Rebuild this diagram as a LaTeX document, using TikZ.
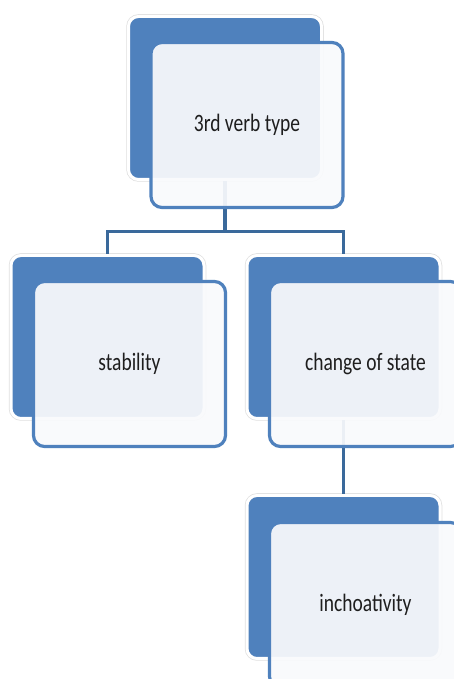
\documentclass[tikz,border=0pt]{standalone}
\usepackage{fontspec}
\usetikzlibrary{positioning}

\newfontfamily\labelfont[FakeStretch=0.78]{Carlito}
\definecolor{boxblue}{RGB}{79,129,189}
\definecolor{linkblue}{RGB}{58,105,155}
\definecolor{paneface}{RGB}{249,250,252}
\definecolor{labelgray}{RGB}{30,30,30}

\begin{document}
\begin{tikzpicture}
[x=1pt,y=1pt,node distance=240pt,on grid,
                    back/.style={rectangle,rounded corners=10pt,fill=boxblue,draw=white,line width=3pt,
                                 minimum width=193pt,minimum height=163pt,
                                 preaction={draw=black!12,line width=4.5pt}},
                    pane/.style={rectangle,rounded corners=11pt,draw=boxblue,line width=3.2pt,
                                 fill=paneface,fill opacity=0.93,text opacity=1,
                                 minimum width=192pt,minimum height=165pt,
                                 text=labelgray,font=\labelfont\fontsize{25}{29}\selectfont},
                    link/.style={draw=linkblue,line width=3.5pt}]

\path[use as bounding box,fill=white] (0,0) rectangle (454,679);

% blue cards
\node[back] (verb) at (225,581) {};
\node[back, below left=239pt and 117.5pt of verb] (stab) {};
\node[back, below right=239pt and 118.5pt of verb] (change) {};
\node[back, below=240pt of change] (inch) {};

% tree lines
\coordinate[below=50.5pt of verb.south] (fork);
\path[link] (verb.south) -- (fork) -| (stab.north);
\path[link] (fork) -| (change.north);
\path[link] (change.south) -- (inch.north);

% text panes
\node[pane, below right=27pt and 22pt of verb] (verbpane) {3rd verb type};
\node[pane, below right=27pt and 22pt of stab] (stabpane) {stability};
\node[pane, below right=27pt and 22pt of change] (changepane) {change of state};
\node[pane, below right=28pt and 22pt of inch] (inchpane) {inchoativity};
\end{tikzpicture}
\end{document}
